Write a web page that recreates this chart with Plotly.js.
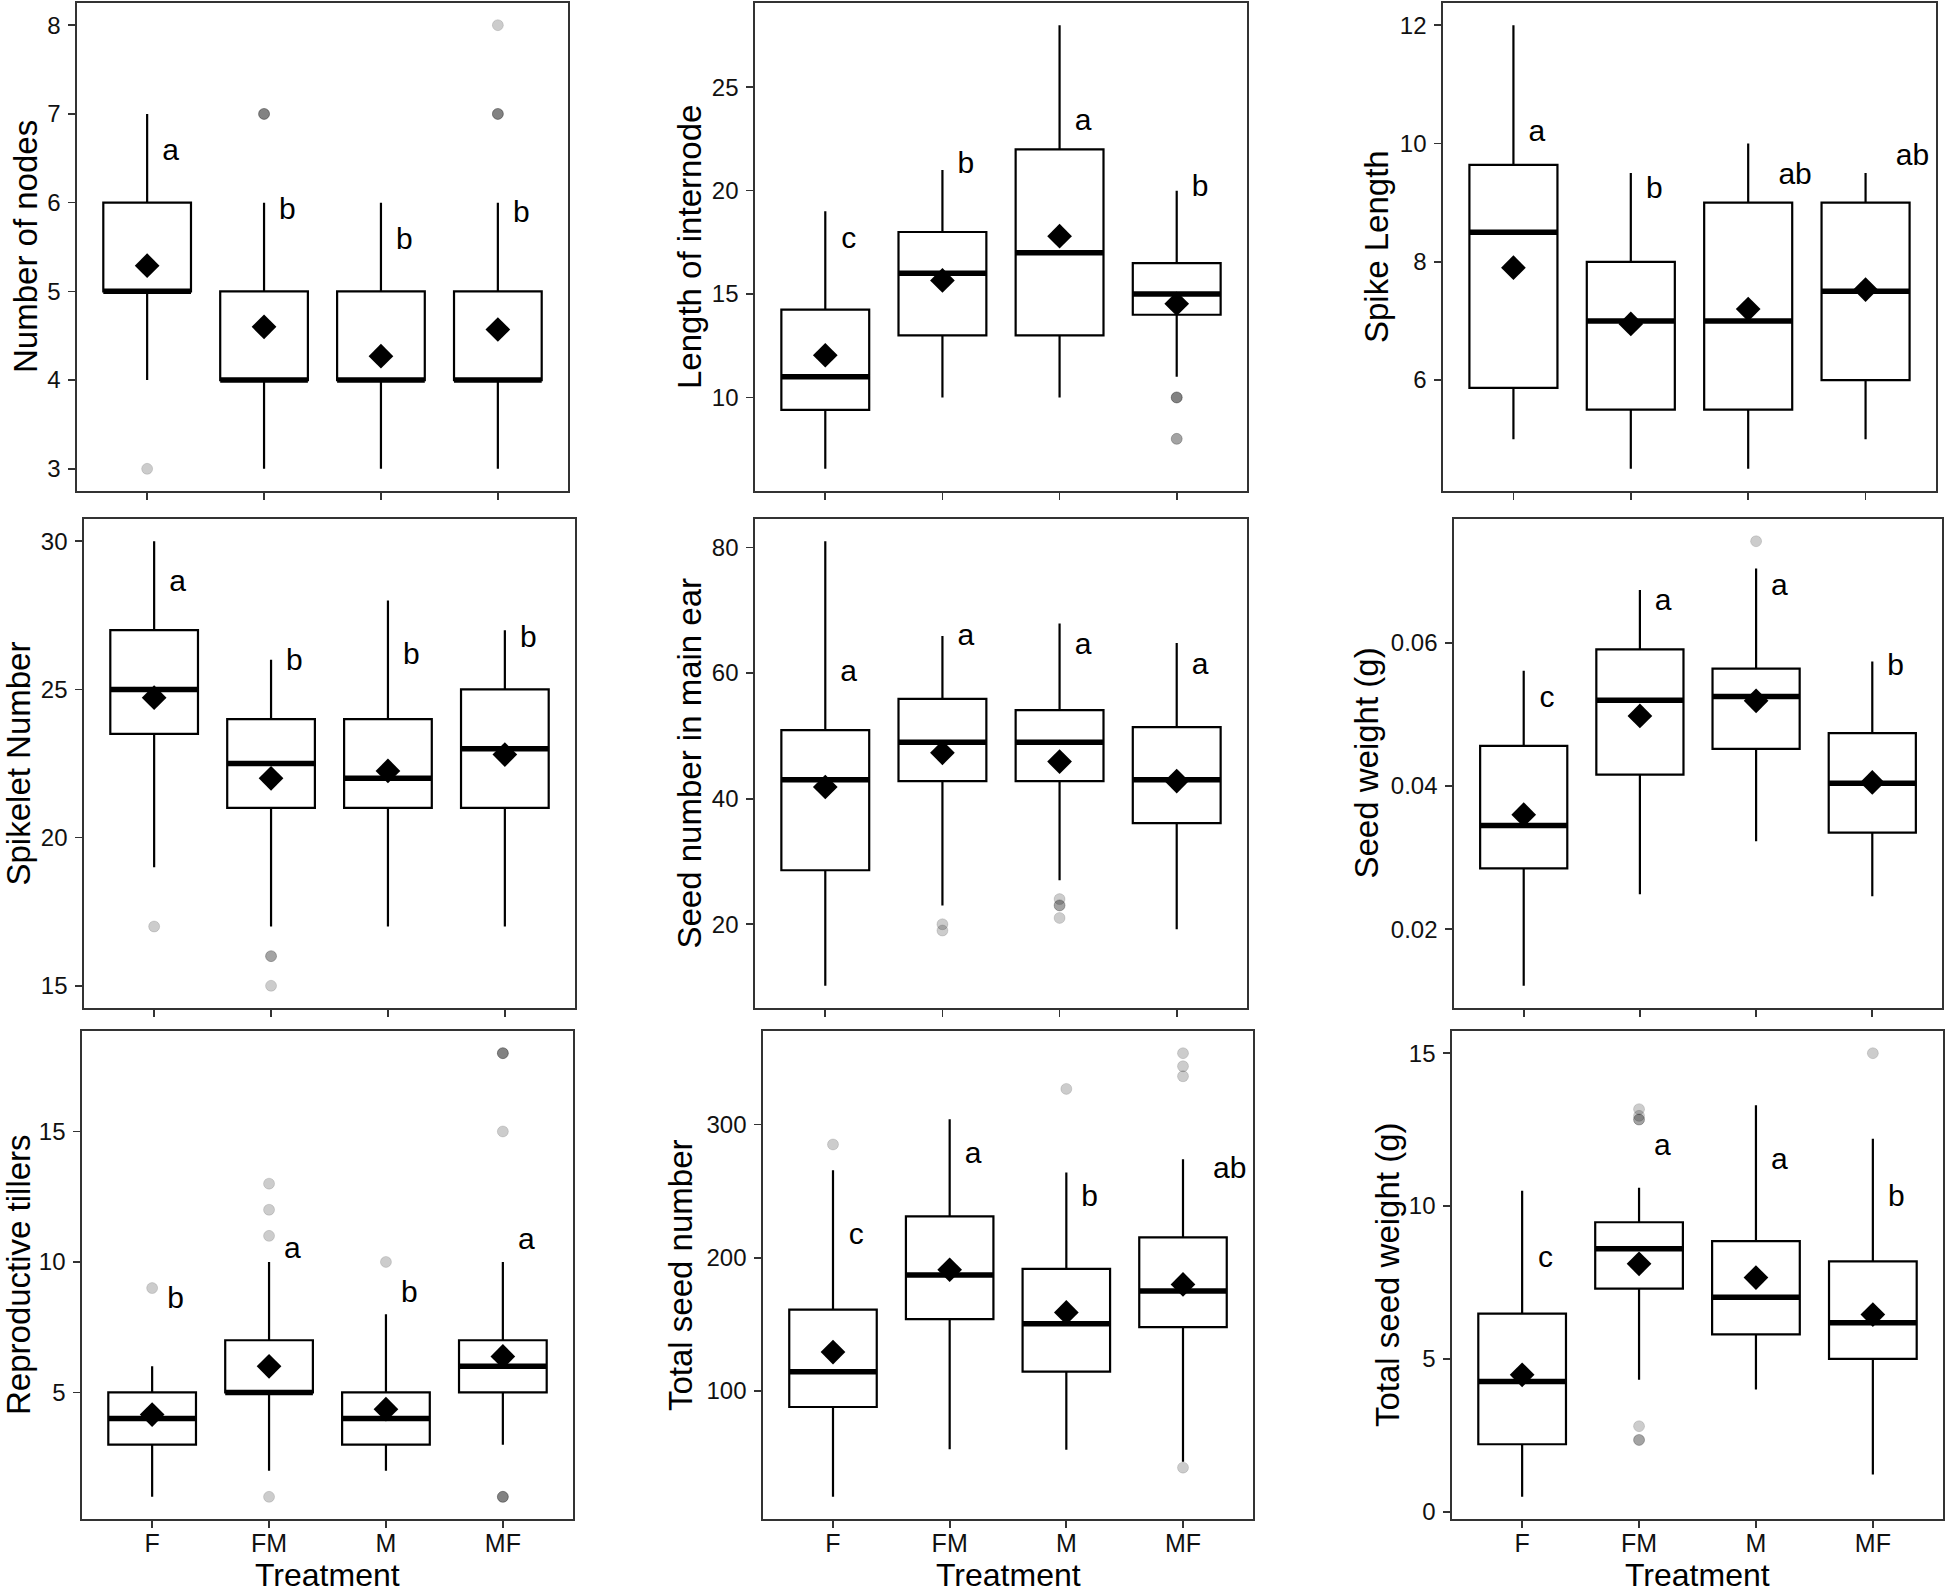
<!DOCTYPE html>
<html><head><meta charset="utf-8">
<script src="https://cdn.plot.ly/plotly-3.0.1.min.js"></script>
<style>html,body{margin:0;padding:0;background:#fff}#chart{width:1946px;height:1594px}</style>
</head><body><div id="chart"></div>
<script>
const treatments = ['F','FM','M','MF'];

// Number of nodes
const nodesLow=[4,3,3,3], nodesQ1=[5,4,4,4], nodesMedian=[5,4,4,4], nodesQ3=[6,5,5,5], nodesHigh=[7,6,6,6];
const nodesMean=[5.29,4.6,4.27,4.57];
const nodesOutliers=[[3],[7,7,7],[],[7,7,7,8]];
const nodesLetters=['a','b','b','b'];
const nodesLetterY=[6.57,5.9,5.56,5.87];

// Length of internode
const internodeLow=[6.55,10,10,11], internodeQ1=[9.4,13,13,14], internodeMedian=[11,16,17,15], internodeQ3=[14.25,18,22,16.5], internodeHigh=[19,21,28,20];
const internodeMean=[12.04,15.66,17.8,14.53];
const internodeOutliers=[[],[],[],[10,10,10,8,8]];
const internodeLetters=['c','b','a','b'];
const internodeLetterY=[17.6,21.2,23.3,20.1];

// Spike Length
const spikeLow=[5,4.5,4.5,5], spikeQ1=[5.87,5.5,5.5,6], spikeMedian=[8.5,7,7,7.5], spikeQ3=[9.64,8,9,9], spikeHigh=[12,9.5,10,9.5];
const spikeMean=[7.9,6.95,7.2,7.53];
const spikeOutliers=[[],[],[],[]];
const spikeLetters=['a','b','ab','ab'];
const spikeLetterY=[10.17,9.21,9.44,9.76];

// Spikelet Number
const spikeletLow=[19,17,17,17], spikeletQ1=[23.5,21,21,21], spikeletMedian=[25,22.5,22,23], spikeletQ3=[27,24,24,25], spikeletHigh=[30,26,28,27];
const spikeletMean=[24.72,22.0,22.25,22.8];
const spikeletOutliers=[[17],[16,16,15],[],[]];
const spikeletLetters=['a','b','b','b'];
const spikeletLetterY=[28.57,25.9,26.1,26.7];

// Seed number in main ear
const earLow=[10.2,23,27,19.2], earQ1=[28.6,42.8,42.8,36.1], earMedian=[43,49,49,43], earQ3=[50.9,55.9,54.1,51.4], earHigh=[81,65.9,67.9,64.8];
const earMean=[41.86,47.3,45.9,42.8];
const earOutliers=[[],[20,19],[24,23,23,21],[]];
const earLetters=['a','a','a','a'];
const earLetterY=[60,65.6,64.2,61.1];

// Seed weight (g)
const seedWLow=[0.0121,0.0249,0.0323,0.0246], seedWQ1=[0.0285,0.0416,0.0452,0.0335], seedWMedian=[0.0345,0.052,0.0525,0.0404], seedWQ3=[0.0456,0.0591,0.0564,0.0474], seedWHigh=[0.0561,0.0674,0.0704,0.0574];
const seedWMean=[0.036,0.0498,0.0519,0.0405];
const seedWOutliers=[[],[],[0.0742],[]];
const seedWLetters=['c','a','a','b'];
const seedWLetterY=[0.0521,0.0657,0.0678,0.0566];

// Reproductive tillers
const tillerLow=[1,2,2,3], tillerQ1=[3,5,3,5], tillerMedian=[4,5,4,6], tillerQ3=[5,7,5,7], tillerHigh=[6,10,8,10];
const tillerMean=[4.15,6.0,4.36,6.38];
const tillerOutliers=[[9],[13,12,11,1],[10],[18,18,18,15,1,1,1]];
const tillerLetters=['b','a','b','a'];
const tillerLetterY=[8.53,10.43,8.76,10.78];

// Total seed number
const totNLow=[20.6,56.3,56,47], totNQ1=[88,154,114.5,148], totNMedian=[114.5,187,150.4,175], totNQ3=[161,231,191.6,215.3], totNHigh=[265.7,304,264,274];
const totNMean=[129.2,191,159,180];
const totNOutliers=[[285],[],[326.7],[353.5,343.7,336.2,42.5]];
const totNLetters=['c','a','b','ab'];
const totNLetterY=[215.6,277,244.8,265.7];

// Total seed weight (g)
const totWLow=[0.49,4.32,4.0,1.22], totWQ1=[2.21,7.3,5.8,5.0], totWMedian=[4.26,8.6,7.02,6.18], totWQ3=[6.48,9.47,8.85,8.19], totWHigh=[10.5,10.6,13.3,12.2];
const totWMean=[4.48,8.11,7.66,6.45];
const totWOutliers=[[],[13.17,12.95,12.83,12.83,2.8,2.35,2.35],[],[15.0]];
const totWLetters=['c','a','a','b'];
const totWLetterY=[8.24,11.9,11.46,10.24];

const yTitles=['Number of nodes','Length of internode','Spike Length','Spikelet Number','Seed number in main ear','Seed weight (g)','Reproductive tillers','Total seed number','Total seed weight (g)'];
const xTitle='Treatment';

const panels=[
 {low:nodesLow,q1:nodesQ1,med:nodesMedian,q3:nodesQ3,high:nodesHigh,mean:nodesMean,out:nodesOutliers,let:nodesLetters,letY:nodesLetterY,dtick:1},
 {low:internodeLow,q1:internodeQ1,med:internodeMedian,q3:internodeQ3,high:internodeHigh,mean:internodeMean,out:internodeOutliers,let:internodeLetters,letY:internodeLetterY,dtick:5},
 {low:spikeLow,q1:spikeQ1,med:spikeMedian,q3:spikeQ3,high:spikeHigh,mean:spikeMean,out:spikeOutliers,let:spikeLetters,letY:spikeLetterY,dtick:2},
 {low:spikeletLow,q1:spikeletQ1,med:spikeletMedian,q3:spikeletQ3,high:spikeletHigh,mean:spikeletMean,out:spikeletOutliers,let:spikeletLetters,letY:spikeletLetterY,dtick:5},
 {low:earLow,q1:earQ1,med:earMedian,q3:earQ3,high:earHigh,mean:earMean,out:earOutliers,let:earLetters,letY:earLetterY,dtick:20},
 {low:seedWLow,q1:seedWQ1,med:seedWMedian,q3:seedWQ3,high:seedWHigh,mean:seedWMean,out:seedWOutliers,let:seedWLetters,letY:seedWLetterY,dtick:0.02},
 {low:tillerLow,q1:tillerQ1,med:tillerMedian,q3:tillerQ3,high:tillerHigh,mean:tillerMean,out:tillerOutliers,let:tillerLetters,letY:tillerLetterY,dtick:5},
 {low:totNLow,q1:totNQ1,med:totNMedian,q3:totNQ3,high:totNHigh,mean:totNMean,out:totNOutliers,let:totNLetters,letY:totNLetterY,dtick:100},
 {low:totWLow,q1:totWQ1,med:totWMedian,q3:totWQ3,high:totWHigh,mean:totWMean,out:totWOutliers,let:totWLetters,letY:totWLetterY,dtick:5}
];

// layout geometry (pixels): [left, right, top, bottom], y-title center x
const W=1946,H=1594;
const boxesPx=[[77,568,3,491],[755,1247,3,491],[1443,1936,3,491],
               [84,575,519,1008],[755,1247,519,1008],[1454,1942,519,1008],
               [82,573,1031,1519],[763,1253,1031,1519],[1452,1943,1031,1519]];
const titleX=[25,689,1376,18,689,1366,18,680,1387];

const FONT='"Liberation Sans", Arial, Helvetica, sans-serif';
const BW=0.75;
const xs=treatments.map((_,i)=>i);
const traces=[];
const layout={width:W,height:H,margin:{l:0,r:0,t:0,b:0},paper_bgcolor:'#fff',plot_bgcolor:'#fff',
  showlegend:false,font:{family:FONT,color:'#111'},annotations:[],hovermode:false};

panels.forEach((p,k)=>{
  const n=k+1, xa='x'+(n===1?'':n), ya='y'+(n===1?'':n);
  const [l,r,t,b]=boxesPx[k];
  traces.push({type:'box',xaxis:xa,yaxis:ya,x:xs,q1:p.q1,median:p.med,q3:p.q3,lowerfence:p.low,upperfence:p.high,
    width:BW,fillcolor:'#ffffff',line:{color:'#000',width:2.2},boxpoints:false,whiskerwidth:0,hoverinfo:'skip'});
  const mx=[],my=[];
  p.med.forEach((m,i)=>{mx.push(i-BW/2,i+BW/2,null);my.push(m,m,null);});
  traces.push({type:'scatter',mode:'lines',xaxis:xa,yaxis:ya,x:mx,y:my,line:{color:'#000',width:5.5},hoverinfo:'skip'});
  const ox=[],oy=[];
  p.out.forEach((arr,i)=>arr.forEach(v=>{ox.push(i);oy.push(v);}));
  traces.push({type:'scatter',mode:'markers',xaxis:xa,yaxis:ya,x:ox,y:oy,
    marker:{size:11,color:'rgba(0,0,0,0.2)',line:{width:1,color:'rgba(0,0,0,0.12)'}},hoverinfo:'skip'});
  traces.push({type:'scatter',mode:'markers',xaxis:xa,yaxis:ya,x:xs,y:p.mean,
    marker:{symbol:'diamond',size:19,color:'#000'},hoverinfo:'skip'});
  traces.push({type:'scatter',mode:'text',xaxis:xa,yaxis:ya,x:p.let.map((s,i)=>i+0.2*s.length),y:p.letY,text:p.let,
    textposition:'middle center',textfont:{size:30,color:'#000',family:FONT},hoverinfo:'skip'});
  const all=[].concat(p.low,p.high,...p.out);
  const mn=Math.min(...all),mx2=Math.max(...all),pad=(mx2-mn)*0.05;
  const axLine={showline:true,mirror:true,linecolor:'#333',linewidth:1.7,showgrid:false,zeroline:false,
    ticks:'outside',ticklen:7,tickwidth:1.7,tickcolor:'#333',tickfont:{size:24,color:'#111',family:FONT}};
  layout['xaxis'+(n===1?'':n)]=Object.assign({},axLine,{anchor:ya,domain:[l/W,r/W],range:[-0.6,3.6],
    tickmode:'array',tickvals:xs,ticktext:treatments,showticklabels:k>=6,fixedrange:true,
    tickfont:{size:25,color:'#111',family:FONT},ticklabelstandoff:-6});
  layout['yaxis'+(n===1?'':n)]=Object.assign({},axLine,{anchor:xa,domain:[1-b/H,1-t/H],range:[mn-pad,mx2+pad],
    tick0:0,dtick:p.dtick,fixedrange:true,ticklabelstandoff:3});
  layout.annotations.push({xref:'paper',yref:'paper',x:titleX[k]/W,y:1-((t+b)/2)/H,text:yTitles[k],textangle:-90,
    showarrow:false,xanchor:'center',yanchor:'middle',font:{size:33,color:'#000',family:FONT}});
  if(k>=6){
    layout.annotations.push({xref:'paper',yref:'paper',x:((l+r)/2)/W,y:0,text:xTitle,
      showarrow:false,xanchor:'center',yanchor:'bottom',borderpad:0,font:{size:32,color:'#000',family:FONT}});
  }
});

Plotly.newPlot('chart',traces,layout,{staticPlot:true,displayModeBar:false});
</script></body></html>
